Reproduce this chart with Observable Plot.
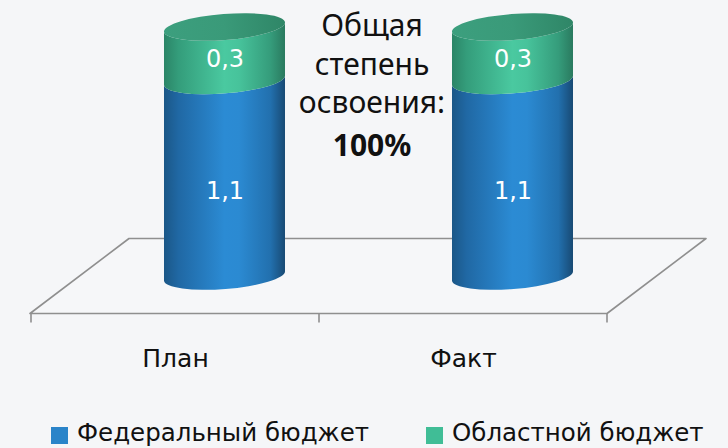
<!DOCTYPE html>
<html><head><meta charset="utf-8">
<script src="https://cdn.jsdelivr.net/npm/d3@7"></script>
<script src="https://cdn.jsdelivr.net/npm/@observablehq/plot@0.6"></script>
<style>
body{margin:0;background:#f5f6f8;}
#chart{position:relative;width:728px;height:448px;overflow:hidden;background:#f5f6f8;}
#legend{position:relative;width:728px;height:38px;font-family:"DejaVu Sans",Verdana,sans-serif;font-size:24.5px;line-height:1.1;color:#111;}
.item{position:absolute;top:0;display:flex;align-items:center;height:38px;}
.sw{width:17px;height:17px;margin-right:9px;margin-top:13px;}
.lbl{margin-top:8px;white-space:nowrap;}
</style></head><body><div id="chart"></div>
<script>
const categories = ["План", "Факт"];
const federal = [1.1, 1.1];
const regional = [0.3, 0.3];
const federalLabels = ["1,1", "1,1"];
const regionalLabels = ["0,3", "0,3"];
const seriesNames = ["Федеральный бюджет", "Областной бюджет"];
const noteLines = ["Общая", "степень", "освоения:"];
const noteValue = "100%";

const seriesColors = ["#2a84c9", "#40bd96"];
const DEPTH_X = 99, DEPTH_Y = 75;

const segments = categories.flatMap((c, i) => [
  {cat: c, s: 0, y1: 0, y2: federal[i], label: federalLabels[i]},
  {cat: c, s: 1, y1: federal[i], y2: federal[i] + regional[i], label: regionalLabels[i]}
]);

function floorMark(index, scales) {
  const x = scales.x, y = scales.y;
  const [x0, x1] = x.range();
  const y0 = y(0);
  const fy = y0 + DEPTH_Y / 2, by = y0 - DEPTH_Y / 2;
  const g = d3.create("svg:g");
  g.append("path")
    .attr("d", `M${x0},${fy}L${x1},${fy}L${x1 + DEPTH_X},${by}L${x0 + DEPTH_X},${by}Z`)
    .attr("fill", "#f6f7f9").attr("stroke", "#8f8f8f").attr("stroke-width", 1.6).attr("stroke-linejoin", "round");
  const edges = [...categories.map(c => x(c)), x1];
  for (const e of edges) {
    g.append("line").attr("x1", e).attr("x2", e).attr("y1", fy).attr("y2", fy + 9)
      .attr("stroke", "#8f8f8f").attr("stroke-width", 1.6);
  }
  return g.node();
}

function cylinderMark(index, scales) {
  const x = scales.x, y = scales.y;
  const bw = x.bandwidth();
  const rx = bw * 0.2107, ry = 13, rotDeg = -4.5, th = rotDeg * Math.PI / 180;
  const g = d3.create("svg:g");
  const defs = g.append("defs");
  const grads = {
    g0: [[0, "#1b5787"], [0.12, "#2068a4"], [0.5, "#2b8bd4"], [0.62, "#2b8ad2"], [0.88, "#2270ae"], [1, "#184a74"]],
    g1: [[0, "#2b8567"], [0.12, "#349d7b"], [0.5, "#4ac9a0"], [0.62, "#47c39b"], [0.88, "#359c7b"], [1, "#2a7a5f"]],
    lid: [[0, "#3c9f7e"], [0.5, "#3a9a79"], [1, "#2f8667"]]
  };
  for (const [id, stops] of Object.entries(grads)) {
    const lg = defs.append("linearGradient").attr("id", "cyl-" + id).attr("x1", 0).attr("x2", 1).attr("y1", 0).attr("y2", 0);
    for (const [o, c] of stops) lg.append("stop").attr("offset", o).attr("stop-color", c);
  }
  const ex = rx * Math.cos(th), ey = rx * Math.sin(th);
  for (const d of segments) {
    const cx = x(d.cat) + bw / 2 + DEPTH_X / 2;
    const a = y(d.y1), b = y(d.y2);
    const p = `M${cx - ex},${a - ey}` +
      `A${rx},${ry} ${rotDeg} 0 0 ${cx + ex},${a + ey}` +
      `L${cx + ex},${b + ey}` +
      `A${rx},${ry} ${rotDeg} 0 1 ${cx - ex},${b - ey}Z`;
    g.append("path").attr("d", p).attr("fill", `url(#cyl-g${d.s})`);
  }
  categories.forEach((c, i) => {
    const cx = x(c) + bw / 2 + DEPTH_X / 2;
    const cy = y(federal[i] + regional[i]);
    g.append("ellipse").attr("cx", cx).attr("cy", cy).attr("rx", rx).attr("ry", ry)
      .attr("transform", `rotate(${rotDeg},${cx},${cy})`).attr("fill", "url(#cyl-lid)");
  });
  return g.node();
}

const plot = Plot.plot({
  width: 728,
  height: 410,
  marginLeft: 30,
  marginRight: 121,
  marginTop: 27,
  marginBottom: 134,
  style: {background: "#f5f6f8", overflow: "visible"},
  x: {type: "band", domain: categories, padding: 0, axis: null},
  y: {domain: [0, 1.4], axis: null},
  marks: [
    floorMark,
    cylinderMark,
    Plot.text(segments.filter(d => d.s === 0), {x: "cat", y: d => (d.y1 + d.y2) / 2, text: "label", dx: DEPTH_X / 2, dy: 13, fill: "white", fontSize: 24, fontFamily: "DejaVu Sans", lineAnchor: "middle"}),
    Plot.text(segments.filter(d => d.s === 1), {x: "cat", y: d => (d.y1 + d.y2) / 2, text: "label", dx: DEPTH_X / 2, dy: 5, fill: "white", fontSize: 24, fontFamily: "DejaVu Sans", lineAnchor: "middle"}),
    Plot.text(categories, {x: d => d, frameAnchor: "bottom", dy: 82, text: d => d, fontSize: 25, fontFamily: "DejaVu Sans", fill: "#111", lineAnchor: "middle"}),
    Plot.text([noteLines.join("\n")], {frameAnchor: "top", dx: 53, dy: -19, text: d => d, fontSize: 30, lineHeight: 1.29, fontFamily: "Noto Sans", fill: "#111", lineAnchor: "top"}),
    Plot.text([noteValue], {frameAnchor: "top", dx: 53, dy: 119, text: d => d, fontSize: 30, fontWeight: "bold", fontFamily: "Noto Sans", fill: "#111", lineAnchor: "middle"})
  ]
});

const chart = document.getElementById("chart");
chart.appendChild(plot);
const legend = document.createElement("div");
legend.id = "legend";
const lefts = [51, 426];
seriesNames.forEach((name, i) => {
  const it = document.createElement("div");
  it.className = "item";
  it.style.left = lefts[i] + "px";
  it.innerHTML = `<div class="sw" style="background:${seriesColors[i]}"></div><span class="lbl">${name}</span>`;
  legend.appendChild(it);
});
chart.appendChild(legend);
</script>
</body></html>
